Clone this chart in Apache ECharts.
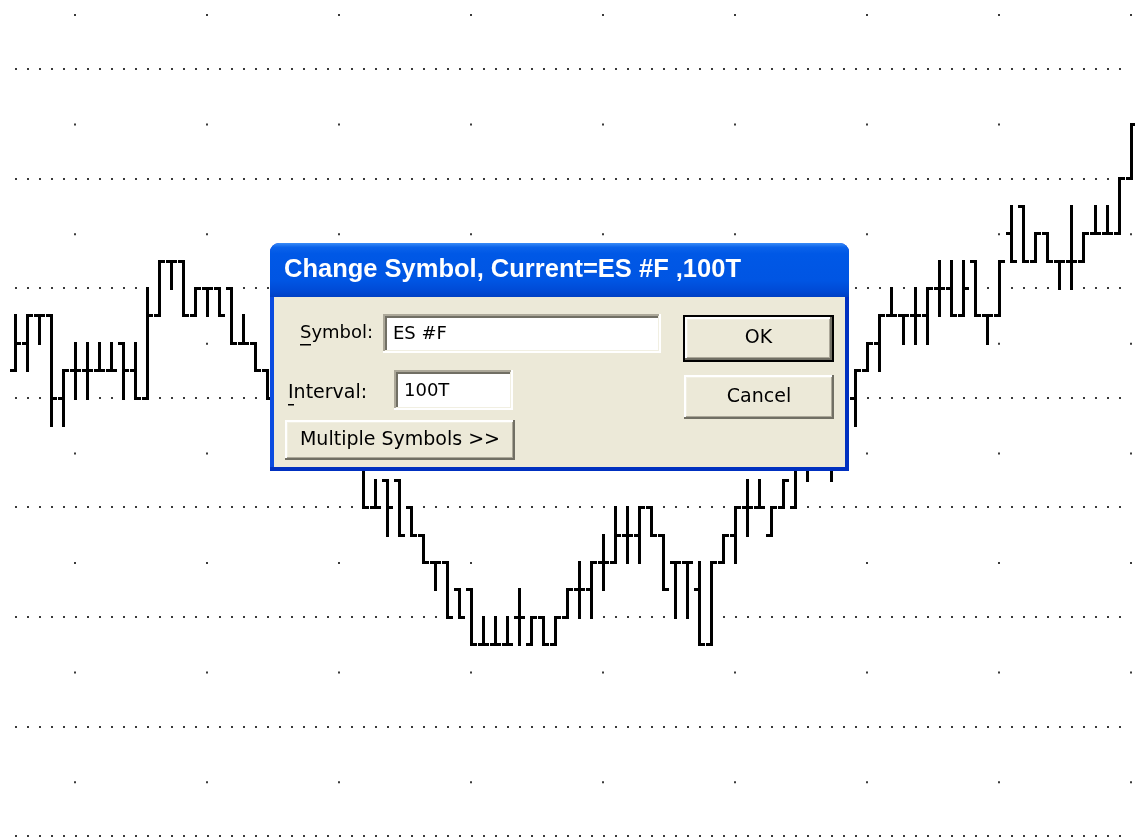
<!DOCTYPE html>
<html>
<head>
<meta charset="utf-8">
<script src="https://cdn.jsdelivr.net/npm/echarts@6/dist/echarts.min.js"></script>
<style>
html,body{margin:0;padding:0;background:#fff;}
#chart{width:1135px;height:839px;}
</style>
</head>
<body>
<div id="chart"></div>
<script>
// OHLC bars (100-tick ES #F), price units, tick size 0.25
const opens  = [1304.25,1304.5,1304.75,1304.75,1304.0,1304.25,1304.25,1304.25,1304.25,1304.5,
                1304.25,1304.0,1304.75,1305.25,1305.25,1304.75,1305.0,1305.0,1305.0,1304.5,
                1304.5,1304.25,1304.0,1303.75,1304.0,1303.75,1303.5,1303.75,1303.5,1303.5,
                1303.0,1303.25,1303.25,1303.0,1302.75,1302.5,1302.5,1302.25,1302.25,1301.75,
                1301.75,1301.75,1302.0,1301.75,1302.0,1301.75,1302.0,1302.25,1302.25,1302.5,
                1302.5,1302.75,1302.75,1303.0,1302.75,1302.5,1302.5,1302.25,1301.75,1302.5,
                1302.75,1303.0,1303.0,1302.75,1303.0,1303.0,1303.5,1303.5,1303.75,1303.5,
                1304.0,1304.25,1304.5,1304.75,1304.75,1304.75,1304.75,1305.0,1305.0,1304.75,
                1305.25,1304.75,1304.75,1305.5,1305.75,1305.25,1305.5,1305.25,1305.25,1305.25,
                1305.5,1305.5,1305.5,1306.0];
const highs  = [1304.75,1304.75,1304.75,1304.75,1304.25,1304.5,1304.5,1304.5,1304.5,1304.5,
                1304.5,1305.0,1305.25,1305.25,1305.25,1305.0,1305.0,1305.0,1305.0,1304.75,
                1304.5,1304.25,1304.0,1304.0,1304.0,1303.75,1303.75,1303.75,1303.75,1303.5,
                1303.25,1303.25,1303.25,1303.0,1302.75,1302.5,1302.5,1302.25,1302.25,1302.0,
                1302.0,1302.0,1302.25,1302.0,1302.0,1302.0,1302.25,1302.5,1302.5,1302.75,
                1303.0,1303.0,1303.0,1303.0,1302.75,1302.5,1302.5,1302.5,1302.5,1302.75,
                1303.0,1303.25,1303.25,1303.0,1303.25,1303.5,1303.75,1303.75,1304.0,1304.0,
                1304.25,1304.5,1304.75,1305.0,1304.75,1305.0,1305.0,1305.25,1305.25,1305.25,
                1305.25,1304.75,1305.25,1305.75,1305.75,1305.5,1305.5,1305.25,1305.75,1305.5,
                1305.75,1305.75,1306.0,1306.5];
const lows   = [1304.25,1304.25,1304.5,1303.75,1303.75,1304.0,1304.0,1304.25,1304.25,1304.0,
                1304.0,1304.0,1304.75,1305.0,1304.75,1304.75,1304.75,1304.75,1304.5,1304.5,
                1304.25,1304.0,1303.75,1303.75,1303.75,1303.5,1303.5,1303.5,1303.5,1303.0,
                1303.0,1302.75,1302.75,1302.75,1302.5,1302.25,1302.0,1302.0,1301.75,1301.75,
                1301.75,1301.75,1301.75,1301.75,1301.75,1301.75,1302.0,1302.0,1302.0,1302.25,
                1302.5,1302.5,1302.5,1302.75,1302.25,1302.0,1302.0,1301.75,1301.75,1302.5,
                1302.5,1302.75,1303.0,1302.75,1303.0,1303.0,1303.25,1303.5,1303.25,1303.5,
                1303.75,1304.25,1304.25,1304.75,1304.5,1304.5,1304.5,1304.75,1304.75,1304.75,
                1304.75,1304.5,1304.75,1305.25,1305.25,1305.25,1305.25,1305.0,1305.0,1305.25,
                1305.5,1305.5,1305.5,1306.0];
const closes = [1304.5,1304.75,1304.75,1304.0,1304.25,1304.25,1304.25,1304.25,1304.25,1304.25,
                1304.0,1304.75,1305.25,1305.25,1304.75,1305.0,1305.0,1304.75,1304.5,1304.5,
                1304.25,1304.0,1303.75,1304.0,1303.75,1303.5,1303.75,1303.5,1303.5,1303.0,
                1303.0,1303.0,1302.75,1302.75,1302.5,1302.5,1302.0,1302.0,1301.75,1301.75,
                1301.75,1301.75,1302.0,1302.0,1301.75,1302.0,1302.25,1302.25,1302.5,1302.5,
                1302.75,1302.75,1303.0,1302.75,1302.25,1302.5,1302.5,1301.75,1302.5,1302.75,
                1303.0,1303.0,1303.0,1303.0,1303.25,1303.5,1303.5,1303.75,1303.5,1304.0,
                1304.25,1304.5,1304.75,1304.75,1304.75,1304.75,1305.0,1305.0,1304.75,1305.0,
                1304.75,1304.75,1305.25,1305.25,1305.25,1305.5,1305.25,1305.25,1305.25,1305.5,
                1305.5,1305.5,1306.0,1306.5];
const categories = opens.map((_, i) => String(i + 1));
const priceMin = 1300, priceMax = 1307.5, priceStep = 1;

// dialog texts
const dlgTitle = 'Change Symbol, Current=ES #F ,100T';
const lblSymbol = 'Symbol:', valSymbol = 'ES #F';
const lblInterval = 'Interval:', valInterval = '100T';
const btnMulti = 'Multiple Symbols >>', btnOk = 'OK', btnCancel = 'Cancel';

const data = opens.map((o, i) => [i, o, highs[i], lows[i], closes[i]]);

const chart = echarts.init(document.getElementById('chart'), null, {renderer: 'canvas'});

const UI = '18px "DejaVu Sans"';
const UIB = '19px "DejaVu Sans"';
function raisedButton(x, y, w, h, label, isDefault) {
  const els = [];
  if (isDefault) {
    els.push({type:'rect', shape:{x:x, y:y, width:w, height:h}, style:{fill:'#000'}, z:100});
    x += 2; y += 2; w -= 4; h -= 4;
  }
  els.push({type:'rect', shape:{x:x, y:y, width:w, height:h}, style:{fill:'#716F64'}, z:101});
  els.push({type:'rect', shape:{x:x, y:y, width:w-2, height:h-2}, style:{fill:'#FFFFFF'}, z:102});
  els.push({type:'rect', shape:{x:x+2, y:y+2, width:w-4, height:h-4}, style:{fill:'#ACA899'}, z:103});
  els.push({type:'rect', shape:{x:x+2, y:y+2, width:w-5, height:h-5}, style:{fill:'#F1EFE2'}, z:104});
  els.push({type:'rect', shape:{x:x+3, y:y+3, width:w-6, height:h-6}, style:{fill:'#ECE9D8'}, z:105});
  els.push({type:'text', x:x + w/2, y:y + h/2, z:106,
    style:{text:label, fill:'#000', font:UIB, align:'center', verticalAlign:'middle'}});
  return els;
}
function sunkenField(x, y, w, h, value) {
  return [
    {type:'rect', shape:{x:x, y:y, width:w, height:h}, style:{fill:'#FFFFFF'}, z:100},
    {type:'rect', shape:{x:x, y:y, width:w-2, height:h-2}, style:{fill:'#ACA899'}, z:101},
    {type:'rect', shape:{x:x+2, y:y+2, width:w-4, height:h-4}, style:{fill:'#F1EFE2'}, z:102},
    {type:'rect', shape:{x:x+2, y:y+2, width:w-5, height:h-5}, style:{fill:'#716F64'}, z:103},
    {type:'rect', shape:{x:x+4, y:y+4, width:w-7, height:h-7}, style:{fill:'#FFFFFF'}, z:104},
    {type:'text', x:x + 10, y:y + h/2 + 1, z:106,
      style:{text:value, fill:'#000', font:UI, verticalAlign:'middle'}}
  ];
}

const dlg = [];
// outer frame
dlg.push({type:'rect', shape:{x:270, y:243, width:579, height:228, r:[9,9,0,0]}, style:{fill:'#0831D9'}, z:90});
dlg.push({type:'rect', shape:{x:270, y:243, width:579, height:54, r:[9,9,0,0]}, z:91,
  style:{fill:new echarts.graphic.LinearGradient(0,0,0,1,[
    {offset:0, color:'#3A8CF7'},{offset:0.08, color:'#0A62EA'},{offset:0.2, color:'#0058E6'},
    {offset:0.7, color:'#0055E3'},{offset:0.9, color:'#0049D4'},{offset:1, color:'#0040C4'}])}});
dlg.push({type:'rect', shape:{x:270, y:297, width:4, height:174}, style:{fill:'#0A4BE0'}, z:92});
dlg.push({type:'rect', shape:{x:845, y:297, width:4, height:174}, style:{fill:'#0030C0'}, z:92});
dlg.push({type:'rect', shape:{x:270, y:467, width:579, height:4}, style:{fill:'#0030C0'}, z:92});
// body
dlg.push({type:'rect', shape:{x:274, y:297, width:571, height:170}, style:{fill:'#ECE9D8'}, z:93});
// title
dlg.push({type:'text', x:284, y:270, z:95,
  style:{text:dlgTitle, fill:'#FFFFFF', font:'bold 25.5px "Liberation Sans"', verticalAlign:'middle',
    textShadowColor:'#0A1E6E', textShadowOffsetX:1, textShadowOffsetY:1, textShadowBlur:0}});
// labels
dlg.push({type:'text', x:300, y:333, z:106, style:{text:lblSymbol, fill:'#000', font:UI, verticalAlign:'middle'}});
dlg.push({type:'rect', shape:{x:300, y:344, width:11, height:1.5}, style:{fill:'#000'}, z:106});
dlg.push({type:'text', x:288, y:393, z:106, style:{text:lblInterval, fill:'#000', font:UIB, verticalAlign:'middle'}});
dlg.push({type:'rect', shape:{x:288, y:404, width:6, height:1.5}, style:{fill:'#000'}, z:106});
dlg.push(...sunkenField(383, 314, 278, 39, valSymbol));
dlg.push(...sunkenField(394, 370, 119, 40, valInterval));
dlg.push(...raisedButton(285, 420, 230, 40, btnMulti, false));
dlg.push(...raisedButton(683, 315, 151, 47, btnOk, true));
dlg.push(...raisedButton(684, 375, 150, 44, btnCancel, false));

const option = {
  animation: false,
  backgroundColor: '#ffffff',
  grid: {left: 15, right: 4, top: 14, bottom: 3, containLabel: false},
  xAxis: {
    type: 'category', data: categories, boundaryGap: false,
    axisLine: {show: false}, axisTick: {show: false}, axisLabel: {show: false},
    splitLine: {show: true, interval: (idx) => idx % 11 === 5,
      lineStyle: {color: '#3a3a3a', width: 2, type: [2, 107.6], dashOffset: 0}}
  },
  yAxis: {
    type: 'value', min: priceMin, max: priceMax, interval: priceStep,
    axisLine: {show: false}, axisTick: {show: false}, axisLabel: {show: false},
    splitLine: {show: true, showMaxLine: false,
      lineStyle: {color: '#3a3a3a', width: 2, type: [2, 10]}}
  },
  series: [{
    type: 'custom',
    data: data,
    encode: {x: 0, y: [1, 2, 3, 4]},
    renderItem: function (params, api) {
      const i = api.value(0);
      const pO = api.coord([i, api.value(1)]);
      const pH = api.coord([i, api.value(2)]);
      const pL = api.coord([i, api.value(3)]);
      const pC = api.coord([i, api.value(4)]);
      const x = Math.round(pO[0]);
      const yH = Math.round(pH[1]), yL = Math.round(pL[1]);
      const yO = Math.round(pO[1]), yC = Math.round(pC[1]);
      const st = {fill: '#000'};
      return {type: 'group', children: [
        {type: 'rect', shape: {x: x - 1, y: yH - 1, width: 3, height: yL - yH + 3}, style: st},
        {type: 'rect', shape: {x: x - 5, y: yO - 1, width: 4, height: 3}, style: st},
        {type: 'rect', shape: {x: x + 2, y: yC - 1, width: 4, height: 3}, style: st}
      ]};
    }
  }],
  graphic: {elements: dlg}
};
chart.setOption(option);
</script>
</body>
</html>
